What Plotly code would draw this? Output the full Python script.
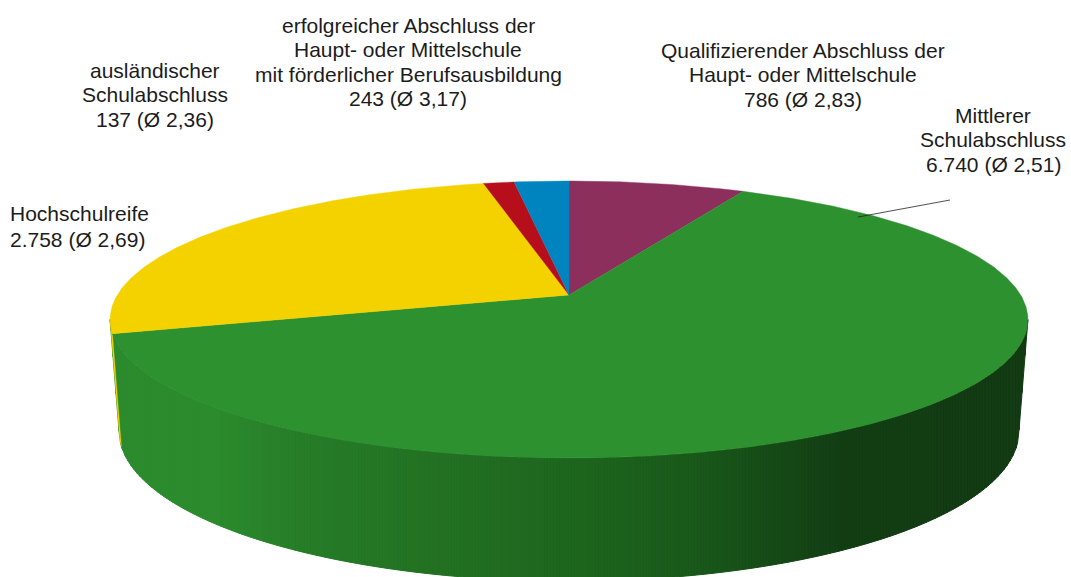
import numpy as np
import plotly.graph_objects as go

# --- data (clockwise from 12 o'clock) ---
categories = ["Qualifizierender Abschluss", "Mittlerer Schulabschluss", "Hochschulreife",
              "ausländischer Schulabschluss", "erfolgreicher Abschluss mit Berufsausbildung"]
values = [786, 6740, 2758, 137, 243]
averages = ["2,83", "2,51", "2,69", "2,36", "3,17"]
label_lines = [
    ["Qualifizierender Abschluss der", "Haupt- oder Mittelschule"],
    ["Mittlerer", "Schulabschluss"],
    ["Hochschulreife"],
    ["ausländischer", "Schulabschluss"],
    ["erfolgreicher Abschluss der", "Haupt- oder Mittelschule", "mit förderlicher Berufsausbildung"],
]
colors = ["#8C2F5C", "#2D9130", "#F4D200", "#B60F1B", "#0084BF"]

# --- geometry / style ---
W, H = 1071, 577
CX, CY = 569, 295
A, B, K = 134.2, 451.7, 0.177          # perspective of the top disc
TOP_CY, TOP_RY, TOP_RX = 319.4, 138.5, 459.0
BOT_CY, BOT_RY, BOT_RX = 431.0, 150.0, 450.0
SIDE_STOPS_X = [110, 220, 300, 569, 700, 840, 1030]
SIDE_STOPS_RGB = [(0x2B, 0x8A, 0x2D), (0x2B, 0x8A, 0x2D), (0x27, 0x7D, 0x28), (0x1E, 0x66, 0x1E),
                  (0x19, 0x58, 0x1A), (0x13, 0x3E, 0x14), (0x12, 0x3A, 0x13)]
STRIP_W = 3
FONT = "Liberation Sans, Arial, sans-serif"
FS = 21
TXT = "#1c1c1c"
# label block anchors: (x, y of first line, line gap, align)
LABEL_POS = [(803, 50, 24.6, "center"), (993, 115, 24.6, "center"), (8, 213, 26, "left"),
             (155, 70, 24.6, "center"), (408, 25, 24.6, "center")]
LEADER = ([858, 950], [217, 200])


def top_pt(theta):
    u, v = np.sin(theta), np.cos(theta)
    w = 1 + K * v
    return CX + B * u / w, CY - A * v / w


def bottom_pt(theta):
    x, y = top_pt(theta)
    return CX + (x - CX) * BOT_RX / TOP_RX, BOT_CY + (y - TOP_CY) * BOT_RY / TOP_RY


fig = go.Figure()
total = sum(values)
edges = np.concatenate([[0], np.cumsum(values)]) / total * 2 * np.pi


def poly(x, y, color, lw=0.6):
    fig.add_trace(go.Scatter(x=x, y=y, mode="lines", fill="toself", fillcolor=color,
                             line=dict(color=color, width=lw), hoverinfo="skip", showlegend=False))


# side wall: visible arc between the two silhouette points, shaded in vertical strips
vis_start = np.pi - np.arcsin(np.sqrt(1 - K ** 2))
vis_end = np.pi + np.arcsin(np.sqrt(1 - K ** 2))
arc = np.linspace(vis_end, vis_start, 400)       # x increasing
ux, uy = top_pt(arc)
lx, ly = bottom_pt(arc)
lx = np.concatenate([[ux[0]], lx, [ux[-1]]])     # silhouette edges down to the base
ly = np.concatenate([[uy[0]], ly, [uy[-1]]])
xs = np.arange(ux[0], ux[-1] + STRIP_W, STRIP_W)
xs[-1] = ux[-1]
for a, b in zip(xs[:-1], xs[1:]):
    xx = np.linspace(a, b, 3)
    xm = (a + b) / 2
    rgb = [np.interp(xm, SIDE_STOPS_X, [c[i] for c in SIDE_STOPS_RGB]) for i in range(3)]
    col = "rgb(%d,%d,%d)" % tuple(rgb)
    px = list(xx) + list(xx[::-1]) + [xx[0]]
    py = list(np.interp(xx, ux, uy)) + list(np.interp(xx[::-1], lx, ly)) + [np.interp(xx[0], ux, uy)]
    poly(px, py, col, lw=1.0)

# sliver of the next slice's wall that remains visible at the silhouette
for idx in range(2, len(values)):
    lo = edges[idx]
    hi = min(edges[idx + 1], vis_end)
    if hi > lo:
        th = np.linspace(lo, hi, 12)
        tx, ty = top_pt(th)
        bx, by = bottom_pt(th[::-1])
        poly(list(tx) + list(bx) + [tx[0]], list(ty) + list(by) + [ty[0]], colors[idx], lw=0.3)

# top face
for idx in range(len(values)):
    th = np.linspace(edges[idx], edges[idx + 1], max(6, int(np.degrees(edges[idx + 1] - edges[idx]) * 2)))
    x, y = top_pt(th)
    poly([CX] + list(x) + [CX], [CY] + list(y) + [CY], colors[idx], lw=0.4)

# leader line
fig.add_trace(go.Scatter(x=LEADER[0], y=LEADER[1], mode="lines", line=dict(color="#222222", width=0.8),
                         hoverinfo="skip", showlegend=False))

# labels
annotations = []
for lines, val, avg, (ax, ay, gap, align) in zip(label_lines, values, averages, LABEL_POS):
    val_txt = f"{val:,}".replace(",", ".")
    for i, t in enumerate(lines + [f"{val_txt} (Ø {avg})"]):
        annotations.append(dict(x=ax, y=ay + i * gap, xref="x", yref="y", text=t,
                                showarrow=False, xanchor=align, yanchor="middle",
                                font=dict(family=FONT, size=FS, color=TXT)))

fig.update_layout(
    width=W, height=H, margin=dict(l=0, r=0, t=0, b=0), paper_bgcolor="white", plot_bgcolor="white",
    xaxis=dict(range=[0, W], visible=False, fixedrange=True),
    yaxis=dict(range=[H, 0], visible=False, fixedrange=True),
    annotations=annotations, showlegend=False,
)
fig.write_html("out.html", config=dict(displayModeBar=False),
               post_script="document.body.style.margin='0';document.body.style.overflow='hidden';")
